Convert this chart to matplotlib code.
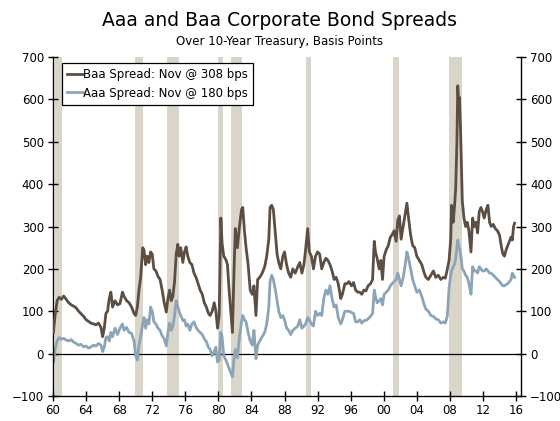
import matplotlib
matplotlib.use("Agg")
import matplotlib.pyplot as plt
from matplotlib.ticker import FixedLocator

# Monthly-ish samples (decimal year) of spreads over the 10-year Treasury, in bps
years = [
    1960.05, 1960.25, 1960.50, 1960.75, 1961.00, 1961.30, 1961.60, 1961.90, 1962.20, 1962.50,
    1962.80, 1963.10, 1963.40, 1963.70, 1964.00, 1964.30, 1964.60, 1964.90, 1965.20, 1965.50,
    1965.80, 1966.00, 1966.20, 1966.40, 1966.60, 1966.80, 1967.00, 1967.20, 1967.50, 1967.80,
    1968.10, 1968.40, 1968.60, 1968.90, 1969.20, 1969.50, 1969.80, 1970.00, 1970.20, 1970.40,
    1970.60, 1970.85, 1971.00, 1971.20, 1971.40, 1971.60, 1971.80, 1972.00, 1972.20, 1972.45,
    1972.70, 1972.95, 1973.20, 1973.45, 1973.70, 1973.90, 1974.10, 1974.30, 1974.50, 1974.70,
    1974.90, 1975.10, 1975.25, 1975.45, 1975.70, 1975.90, 1976.10, 1976.30, 1976.55, 1976.80,
    1977.05, 1977.30, 1977.55, 1977.80, 1978.05, 1978.30, 1978.55, 1978.80, 1979.00, 1979.25,
    1979.50, 1979.70, 1979.90, 1980.10, 1980.30, 1980.45, 1980.65, 1980.90, 1981.10, 1981.30,
    1981.50, 1981.70, 1981.90, 1982.05, 1982.30, 1982.55, 1982.80, 1982.95, 1983.15, 1983.35,
    1983.60, 1983.85, 1984.10, 1984.30, 1984.55, 1984.75, 1985.00, 1985.30, 1985.60, 1985.85,
    1986.10, 1986.25, 1986.45, 1986.65, 1986.90, 1987.10, 1987.30, 1987.55, 1987.80, 1988.00,
    1988.25, 1988.50, 1988.75, 1989.00, 1989.30, 1989.60, 1989.85, 1990.10, 1990.35, 1990.60,
    1990.80, 1991.00, 1991.25, 1991.50, 1991.75, 1992.00, 1992.25, 1992.50, 1992.75, 1993.00,
    1993.25, 1993.50, 1993.75, 1994.00, 1994.25, 1994.50, 1994.80, 1995.00, 1995.30, 1995.55,
    1995.80, 1996.10, 1996.35, 1996.60, 1996.85, 1997.10, 1997.35, 1997.60, 1997.85, 1998.10,
    1998.40, 1998.65, 1998.85, 1999.00, 1999.20, 1999.45, 1999.65, 1999.85, 2000.05, 2000.30,
    2000.55, 2000.80, 2001.00, 2001.25, 2001.50, 2001.70, 2001.90, 2002.10, 2002.35, 2002.60,
    2002.80, 2003.00, 2003.25, 2003.50, 2003.75, 2004.00, 2004.30, 2004.60, 2004.90, 2005.10,
    2005.40, 2005.70, 2006.00, 2006.30, 2006.60, 2006.90, 2007.20, 2007.45, 2007.70, 2007.90,
    2008.10, 2008.20, 2008.40, 2008.55, 2008.70, 2008.85, 2008.95, 2009.05, 2009.15, 2009.30,
    2009.50, 2009.70, 2009.90, 2010.10, 2010.30, 2010.55, 2010.75, 2010.95, 2011.15, 2011.35,
    2011.55, 2011.75, 2011.95, 2012.15, 2012.40, 2012.60, 2012.80, 2013.00, 2013.25, 2013.50,
    2013.75, 2014.00, 2014.20, 2014.40, 2014.60, 2014.80, 2015.00, 2015.20, 2015.40, 2015.55,
    2015.70, 2015.83,
]

baa_spread = [
    50, 90, 125, 133, 128, 136, 128, 120, 115, 112,
    108, 100, 94, 88, 80, 76, 72, 70, 68, 72,
    62, 40, 60, 95, 100, 130, 145, 110, 125, 115,
    118, 145, 135, 125, 120, 110, 95, 90, 110, 150,
    180, 250, 245, 210, 230, 215, 240, 235, 200, 195,
    182, 175, 150, 120, 98, 130, 150, 125, 135, 170,
    235, 258, 230, 250, 215, 240, 252, 230, 215, 210,
    190, 180, 165, 150, 140, 120, 110, 95, 90, 100,
    120, 100, 60, 90, 320, 260, 230, 222, 210, 150,
    100, 50, 200, 295, 250, 300, 340, 345, 290, 250,
    210, 150, 140, 160, 90, 175, 180, 190, 205, 230,
    270, 345, 350, 340, 280, 235, 215, 200, 230, 240,
    210, 190, 180, 200, 190, 205, 215, 190, 210, 255,
    295, 240, 230, 200, 230, 240, 235, 200, 215, 225,
    220, 210, 195, 175, 180, 165, 130, 140, 165, 165,
    170, 160, 168, 150, 145, 145, 140, 150, 148, 160,
    165, 175, 265, 240, 225, 200, 220, 175, 230, 245,
    255, 275, 280, 290, 265, 315, 325, 270, 300, 330,
    355, 320, 280, 255, 250, 230, 220, 210, 190, 180,
    175, 185, 195, 180, 185, 175, 180, 178, 200, 220,
    270, 350, 310, 345, 390, 500, 632, 600, 605, 520,
    360, 320, 300, 310, 290, 240, 320, 300, 310, 285,
    335, 345, 335, 320, 340, 350, 310, 300, 305, 295,
    290, 280, 255, 235, 230, 245, 255, 265, 275, 268,
    300, 308,
]

aaa_spread = [
    -20, 10, 30, 38, 34, 36, 32, 30, 33, 27,
    24, 20, 22, 16, 18, 13, 16, 20, 18, 24,
    20, 5, 15, 38, 40, 30, 50, 40, 60, 45,
    60, 70, 55, 62, 50, 48, 30, -5, -15, 20,
    40, 70, 85, 60, 80, 70, 110, 100, 75, 70,
    60, 55, 42, 35, 18, 50, 72, 55, 65, 90,
    125, 110, 100, 90, 78, 80, 65, 70, 55, 70,
    75, 62, 55, 50, 45, 35, 28, 15, 10, -5,
    5, 15, -20, -15, 50, 40, -5, -15, -25, -35,
    -45, -55, -10, 10, -10, 40, 75, 90, 80, 75,
    50, 30, 20, 55, -12, 20, 30, 40, 50, 70,
    110, 170, 185, 175, 150, 125, 100, 85, 90, 80,
    60, 55, 45, 55, 60, 65, 80, 60, 65, 72,
    85, 80, 70, 65, 100, 90, 95, 90, 130, 150,
    140, 160, 130, 110, 115, 85, 70, 80, 100, 100,
    100, 97, 95, 75, 75, 80, 72, 78, 78, 82,
    88, 95, 150, 135, 120, 125, 130, 115, 140, 145,
    150, 160, 165, 170, 175, 190, 175, 160, 180, 210,
    240, 225, 200, 175, 160, 145, 150, 135, 115, 105,
    100, 90, 88, 82, 80, 72, 75, 72, 90, 155,
    185, 195, 205, 210, 225, 250, 268, 255, 250, 235,
    200, 195, 185, 180, 165, 140, 205, 195, 195, 190,
    205, 200, 195, 195, 200, 195, 190, 190, 185, 180,
    175, 170, 165, 160, 160, 163, 165, 170, 175, 190,
    185, 180,
]

# NBER recession periods (start, end)
recessions = [
    (1960.29, 1961.12), (1969.92, 1970.88), (1973.83, 1975.21), (1980.00, 1980.54),
    (1981.50, 1982.88), (1990.54, 1991.21), (2001.17, 2001.88), (2007.92, 2009.46),
]

tick_years = list(range(1960, 2017, 4))
tick_labels = [f"{y % 100:02d}" for y in tick_years]
y_ticks = list(range(-100, 701, 100))

baa_color = "#5C4E42"
aaa_color = "#8BA5B7"
band_color = "#D9D5C9"

plt.rcParams["font.family"] = ["DejaVu Sans"]

fig = plt.figure(figsize=(5.6, 4.21), dpi=100)
ax = fig.add_axes([53 / 560, 1 - 396 / 421, (521 - 53) / 560, (396 - 57) / 421])

for start, end in recessions:
    ax.axvspan(start, end, color=band_color, lw=0, zorder=0)

ax.axhline(0, color="black", lw=0.9, zorder=1)

ax.plot(years, baa_spread, color=baa_color, lw=2.0, zorder=3,
        label="Baa Spread: Nov @ 308 bps")
ax.plot(years, aaa_spread, color=aaa_color, lw=2.0, zorder=2,
        label="Aaa Spread: Nov @ 180 bps")

ax.set_xlim(1960, 2016.6)
ax.set_ylim(-100, 700)
ax.xaxis.set_major_locator(FixedLocator(tick_years))
ax.set_xticklabels(tick_labels)
ax.set_yticks(y_ticks)

ax.spines["top"].set_visible(False)
for side in ("left", "right", "bottom"):
    ax.spines[side].set_linewidth(1.0)
    ax.spines[side].set_color("black")

ax.tick_params(axis="both", direction="inout", length=7, width=1.0,
               labelsize=8.5, colors="black")
ax.tick_params(axis="y", left=True, right=True, labelleft=True, labelright=True)
ax.tick_params(axis="y", which="both", pad=3)
ax.tick_params(axis="x", pad=2)

leg = ax.legend(loc="upper left", bbox_to_anchor=(9 / 468, 1 - 6 / 339),
                frameon=True, fancybox=False, edgecolor="black", framealpha=1,
                fontsize=8.5, handlelength=1.3, handletextpad=0.0,
                borderpad=0.45, labelspacing=0.45, borderaxespad=0)
leg.get_frame().set_linewidth(0.9)

fig.text(0.5, 1 - 20 / 421, "Aaa and Baa Corporate Bond Spreads",
         ha="center", va="center", fontsize=13.5)
fig.text(0.5, 1 - 41 / 421, "Over 10-Year Treasury, Basis Points",
         ha="center", va="center", fontsize=8.5)

fig.savefig("out.png", dpi=100)
